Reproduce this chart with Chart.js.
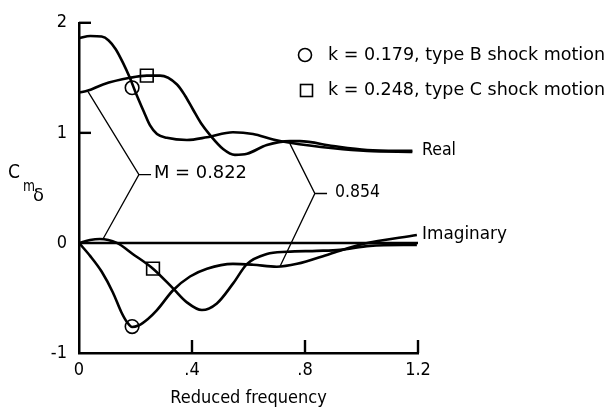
<!DOCTYPE html>
<html>
<head>
<meta charset="utf-8">
<script src="https://cdn.jsdelivr.net/npm/chart.js@4.4.0/dist/chart.umd.min.js"></script>
<style>
  html, body { margin: 0; padding: 0; background: #fff; }
</style>
</head>
<body>
<canvas id="chart" width="608" height="411"></canvas>
<script>
// Real part, M = 0.822 (square marker curve)
const realK822 = [0, 0.032, 0.085, 0.18, 0.24, 0.287, 0.347, 0.375, 0.404, 0.432, 0.464, 0.51, 0.552, 0.595, 0.665, 0.747, 0.782, 0.9, 1.02, 1.18];
const realV822 = [1.366, 1.384, 1.44, 1.50, 1.52, 1.52, 1.44, 1.34, 1.21, 1.087, 0.98, 0.854, 0.80, 0.81, 0.89, 0.925, 0.925, 0.88, 0.845, 0.836];
// Real part, M = 0.854 (circle marker curve)
const realK854 = [0, 0.04, 0.08, 0.105, 0.13, 0.155, 0.18, 0.2, 0.23, 0.251, 0.276, 0.311, 0.382, 0.453, 0.545, 0.616, 0.687, 0.747, 0.9, 1.02, 1.18];
const realV854 = [1.86, 1.88, 1.875, 1.84, 1.76, 1.64, 1.50, 1.37, 1.19, 1.07, 0.99, 0.955, 0.935, 0.96, 1.006, 0.99, 0.94, 0.91, 0.86, 0.835, 0.827];
// Imaginary part, M = 0.822
const imagK822 = [0, 0.039, 0.074, 0.134, 0.19, 0.262, 0.333, 0.382, 0.435, 0.488, 0.545, 0.595, 0.665, 0.736, 0.842, 0.924, 1.03, 1.196];
const imagV822 = [0, 0.027, 0.036, 0, -0.10, -0.234, -0.413, -0.54, -0.61, -0.55, -0.37, -0.19, -0.10, -0.08, -0.072, -0.063, -0.027, -0.018];
// Imaginary part, M = 0.854
const imagK854 = [0, 0.04, 0.08, 0.12, 0.15, 0.17, 0.188, 0.21, 0.244, 0.276, 0.333, 0.393, 0.453, 0.545, 0.616, 0.70, 0.772, 0.888, 1.005, 1.196];
const imagV854 = [0, -0.12, -0.26, -0.45, -0.63, -0.72, -0.764, -0.75, -0.69, -0.61, -0.43, -0.305, -0.234, -0.19, -0.198, -0.216, -0.19, -0.10, -0.01, 0.072];

// marked points
const circleK = [0.188, 0.188];
const circleV = [1.41, -0.76];
const squareK = [0.24, 0.262];
const squareV = [1.52, -0.234];

// leader lines for the Mach labels (tip, vertex, tick end, vertex, tip)
const leader822K = [0.032, 0.212, 0.255, 0.212, 0.085];
const leader822V = [1.375, 0.62, 0.62, 0.62, 0.036];
const leader854K = [0.747, 0.835, 0.878, 0.835, 0.711];
const leader854V = [0.90, 0.449, 0.449, 0.449, -0.216];

const zeroK = [0, 1.2];
const zeroV = [0, 0];

const xTicks = [0, 0.4, 0.8, 1.2];
const xTickLabels = ['0', '.4', '.8', '1.2'];
const yTicks = [-1, 0, 1, 2];
const yTickLabels = ['-1', '0', '1', '2'];

const FONT = "'DejaVu Sans Condensed', 'DejaVu Sans', sans-serif";

function pts(ks, vs) {
  return ks.map((k, i) => ({ x: k, y: vs[i] }));
}

function curve(ks, vs) {
  return {
    data: pts(ks, vs),
    showLine: true,
    borderColor: '#000',
    borderWidth: 2.6,
    pointRadius: 0,
    cubicInterpolationMode: 'monotone',
    fill: false
  };
}

function leader(ks, vs) {
  return {
    data: pts(ks, vs),
    showLine: true,
    borderColor: '#000',
    borderWidth: 1.3,
    pointRadius: 0,
    tension: 0,
    fill: false
  };
}

function markers(ks, vs, style) {
  return {
    data: pts(ks, vs),
    showLine: false,
    pointStyle: style,
    pointRadius: style === 'circle' ? 6.8 : 9,
    pointBackgroundColor: '#fff',
    pointBorderColor: '#000',
    pointBorderWidth: 1.6
  };
}

// draws text squeezed/stretched to a given width
function fitText(ctx, text, x, y, w, size) {
  ctx.save();
  ctx.font = size + 'px ' + FONT;
  ctx.textAlign = 'left';
  ctx.textBaseline = 'middle';
  const m = ctx.measureText(text).width;
  ctx.translate(x, y);
  ctx.scale(w / m, 1);
  ctx.fillText(text, 0, 0);
  ctx.restore();
}

const annotations = {
  id: 'annotations',
  afterDraw(chart) {
    const ctx = chart.ctx;
    const xs = chart.scales.x, ys = chart.scales.y;
    ctx.save();
    ctx.fillStyle = '#000';
    ctx.strokeStyle = '#000';
    ctx.lineWidth = 2.4;
    // inward ticks
    [1, 2].forEach(v => {
      const py = ys.getPixelForValue(v);
      ctx.beginPath();
      ctx.moveTo(xs.left, py);
      ctx.lineTo(xs.left + 12, py);
      ctx.stroke();
    });
    [0.4, 0.8, 1.2].forEach(k => {
      const px = xs.getPixelForValue(k);
      ctx.beginPath();
      ctx.moveTo(px, ys.bottom);
      ctx.lineTo(px, ys.bottom - 13);
      ctx.stroke();
    });

    // legend
    ctx.lineWidth = 1.6;
    ctx.beginPath();
    ctx.arc(305, 55, 6.5, 0, Math.PI * 2);
    ctx.stroke();
    ctx.strokeRect(300.5, 84.5, 12, 12);
    fitText(ctx, 'k = 0.179, type B shock motion', 328, 55, 277, 18);
    fitText(ctx, 'k = 0.248, type C shock motion', 328, 90, 277, 18);

    // curve labels
    fitText(ctx, 'M = 0.822', 154, 173, 93, 18);
    fitText(ctx, '0.854', 335, 192, 45, 18);
    fitText(ctx, 'Real', 422, 150, 34, 18);
    fitText(ctx, 'Imaginary', 422, 234, 85, 18);

    // y axis title C m delta
    fitText(ctx, 'C', 8, 173, 12, 19);
    fitText(ctx, 'm', 23, 187, 12, 15);
    fitText(ctx, 'δ', 33, 197, 11, 17);
    ctx.restore();
  }
};

const ctx = document.getElementById('chart').getContext('2d');
const chart = new Chart(ctx, {
  type: 'scatter',
  data: {
    datasets: [
      curve(realK822, realV822),
      curve(realK854, realV854),
      curve(imagK822, imagV822),
      curve(imagK854, imagV854),
      curve(zeroK, zeroV),
      leader(leader822K, leader822V),
      leader(leader854K, leader854V),
      markers(circleK, circleV, 'circle'),
      markers(squareK, squareV, 'rect')
    ]
  },
  options: {
    responsive: false,
    animation: false,
    clip: false,
    layout: { padding: { top: 19, right: 190, bottom: 0, left: 0 } },
    plugins: {
      legend: { display: false },
      tooltip: { enabled: false }
    },
    scales: {
      x: {
        type: 'linear',
        min: 0,
        max: 1.2,
        afterBuildTicks: axis => { axis.ticks = xTicks.map(v => ({ value: v })); },
        afterFit: axis => { axis.height = 58; },
        grid: { display: false, drawTicks: false },
        border: { display: true, color: '#000', width: 2.5 },
        ticks: {
          color: '#000',
          padding: 7,
          font: { family: FONT, size: 18 },
          callback: (v, i) => xTickLabels[i]
        },
        title: {
          display: true,
          text: 'Reduced frequency',
          color: '#000',
          font: { family: FONT, size: 18 },
          padding: { top: 0, bottom: 2 }
        }
      },
      y: {
        type: 'linear',
        min: -1,
        max: 2,
        afterBuildTicks: axis => { axis.ticks = yTicks.map(v => ({ value: v })); },
        afterFit: axis => { axis.width = 79; },
        grid: { display: false, drawTicks: false },
        border: { display: true, color: '#000', width: 2.5 },
        ticks: {
          color: '#000',
          padding: 12,
          font: { family: FONT, size: 18 },
          callback: (v, i) => yTickLabels[i]
        }
      }
    }
  },
  plugins: [annotations]
});
</script>
</body>
</html>
